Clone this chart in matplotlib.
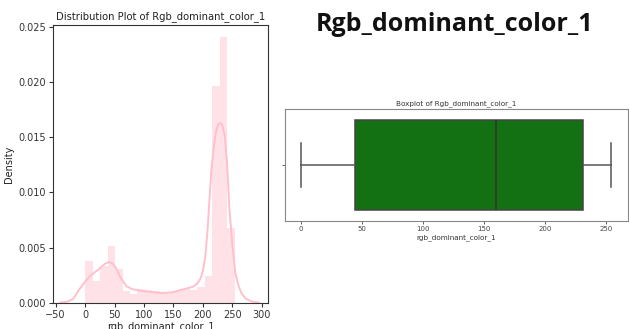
import numpy as np
import matplotlib
matplotlib.use("Agg")
import matplotlib.pyplot as plt

# histogram of rgb_dominant_color_1 (density, 20 bins over 0..254)
bin_lo, bin_hi, n_bins = 0, 254, 20
hist_density = [0.00378, 0.00197, 0.0033, 0.00514, 0.00303, 0.00106, 0.00076,
                0.00121, 0.00115, 0.00106, 0.0009, 0.0009, 0.00106, 0.0012,
                0.00115, 0.00145, 0.0024, 0.0197, 0.0241, 0.0068]

# kernel density estimate curve
kde_x = [-42, -30, -20, -10, 0, 8, 15, 25, 33, 40, 47, 53, 60, 70, 80, 90, 100,
         115, 127, 140, 150, 160, 172, 183, 190, 196, 200, 204, 208, 211, 214,
         218, 222, 226, 230, 233, 237, 241, 245, 250, 255, 260, 265, 272, 283, 295]
kde_y = [0.0, 0.0001, 0.00035, 0.0012, 0.0019, 0.0024, 0.0027, 0.0031, 0.0035,
         0.0037, 0.00355, 0.0031, 0.0023, 0.0015, 0.00122, 0.00112, 0.00104,
         0.00095, 0.00088, 0.0009, 0.00096, 0.00112, 0.00128, 0.00145, 0.0017,
         0.0022, 0.0029, 0.0042, 0.0067, 0.0093, 0.0118, 0.014, 0.0155, 0.0162,
         0.0163, 0.0161, 0.0152, 0.0126, 0.0085, 0.0052, 0.0027, 0.0016, 0.0009,
         0.0004, 0.0001, 0.0]

# five-number summary for the boxplot
box_min, box_q1, box_med, box_q3, box_max = 0, 44.5, 160, 231, 254

col_name = "rgb_dominant_color_1"
title_name = "Rgb_dominant_color_1"

fig = plt.figure(figsize=(6.29, 3.29), dpi=100)

# --- distribution plot ---
ax1 = fig.add_axes([0.0838, 0.080, 0.3428, 0.844])
edges = np.linspace(bin_lo, bin_hi, n_bins + 1)
ax1.hist(edges[:-1], bins=edges, weights=hist_density, color="pink", alpha=0.45)
ax1.plot(kde_x, kde_y, color="pink", lw=1.4)
ax1.set_xlim(-55, 311)
ax1.set_ylim(0, 0.0252)
ax1.set_xticks([-50, 0, 50, 100, 150, 200, 250, 300])
ax1.set_yticks([0, 0.005, 0.01, 0.015, 0.02, 0.025])
ax1.set_yticklabels([f"{v:.3f}" for v in [0, 0.005, 0.01, 0.015, 0.02, 0.025]])
ax1.tick_params(labelsize=7, length=3, pad=2, colors="#333333")
for s in ax1.spines.values():
    s.set_color("#333333")
ax1.set_title("Distribution Plot of " + title_name, fontsize=7.2, pad=4, color="#222222")
ax1.set_xlabel(col_name, fontsize=7, labelpad=1, color="#222222")
ax1.set_ylabel("Density", fontsize=7, labelpad=3, color="#222222")

# --- boxplot ---
ax2 = fig.add_axes([0.4531, 0.3292, 0.5449, 0.3386])
stats = [dict(med=box_med, q1=box_q1, q3=box_q3, whislo=box_min, whishi=box_max, fliers=[])]
line = dict(color="#555555", lw=1.1)
ax2.bxp(stats, positions=[0], widths=0.8, vert=False, patch_artist=True,
        boxprops=dict(facecolor="#137013", edgecolor="#444444", lw=1.1),
        whiskerprops=line, capprops=line,
        medianprops=dict(color="#333333", lw=1.1))
ax2.set_xlim(-13, 267.6)
ax2.set_ylim(0.5, -0.5)
ax2.set_yticks([0])
ax2.set_yticklabels([""])
ax2.set_xticks([0, 50, 100, 150, 200, 250])
ax2.set_xticklabels(["0", "50", "100", "150", "200", "250"])
ax2.tick_params(labelsize=5, length=2, pad=1.5, colors="#444444", width=0.6)
for s in ax2.spines.values():
    s.set_color("#888888")
    s.set_linewidth(0.8)
ax2.set_title("Boxplot of " + title_name, fontsize=5.2, pad=3, color="#333333")
ax2.set_xlabel(col_name, fontsize=5.2, labelpad=2, color="#333333")

# heading
fig.text(0.7226, 0.906, title_name, fontsize=18, fontweight="bold",
         family="Open Sans", ha="center", va="baseline", color="#111111")

fig.savefig("out.png", dpi=100)
